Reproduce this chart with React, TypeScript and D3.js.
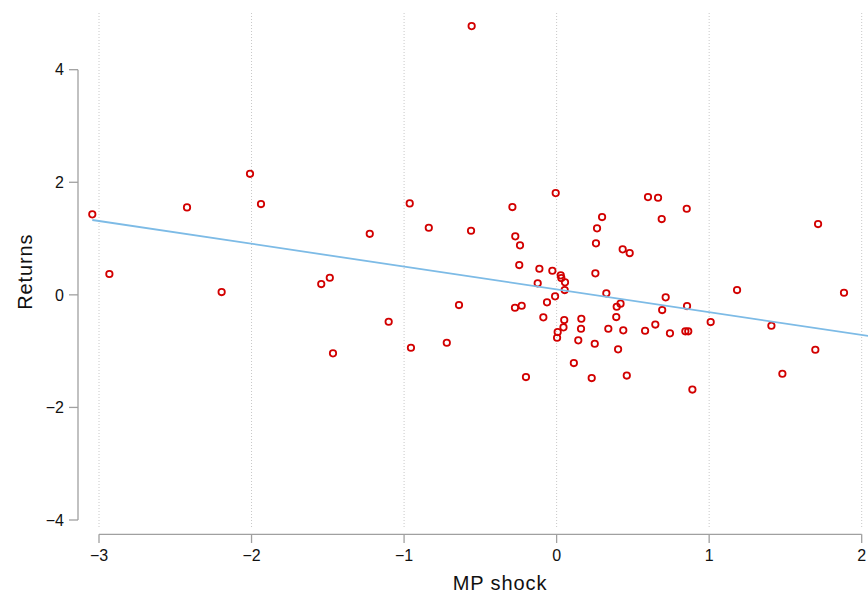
import React from "react";
import * as d3 from "d3";

// MP shock (x) and Returns (y)
const shock = [
  -3.044, -2.932, -2.423, -2.01, -1.938, -2.196, -0.557, -0.006, -0.963, -0.29,
  -1.225, -0.838, -0.561, -0.271, -0.24, -0.245, -0.113, -0.028, 0.027, 0.031,
  0.055, -0.124, 0.053, -0.01, -0.063, -1.487, -1.543, 0.265, 0.258, 0.254,
  0.298, 0.599, 0.665, 0.853, 0.689, 0.433, 0.479, 0.326, 0.715, 1.714,
  1.183, 1.884, -1.466, -1.101, -0.955, -0.72, -0.64, -0.273, -0.229, -0.087,
  0.05, 0.162, 0.007, 0.045, 0.16, 0.003, 0.142, 0.25, 0.113, -0.201,
  0.23, 0.394, 0.419, 0.391, 0.339, 0.437, 0.403, 0.46, 0.58, 0.647,
  0.692, 0.855, 0.743, 0.844, 0.863, 0.89, 1.01, 1.408, 1.696, 1.48,
];
const returns = [
  1.43, 0.37, 1.554, 2.151, 1.613, 0.05, 4.775, 1.808, 1.625, 1.56,
  1.085, 1.192, 1.139, 1.039, 0.879, 0.529, 0.464, 0.428, 0.346, 0.298,
  0.222, 0.204, 0.085, -0.027, -0.133, 0.304, 0.192, 1.181, 0.915, 0.382,
  1.382, 1.737, 1.725, 1.53, 1.347, 0.808, 0.743, 0.027, -0.044, 1.258,
  0.085, 0.037, -1.039, -0.478, -0.94, -0.851, -0.181, -0.229, -0.194, -0.4,
  -0.448, -0.425, -0.661, -0.577, -0.602, -0.762, -0.808, -0.869, -1.212, -1.46,
  -1.478, -0.211, -0.156, -0.394, -0.602, -0.631, -0.968, -1.434, -0.638, -0.528,
  -0.27, -0.199, -0.684, -0.648, -0.648, -1.682, -0.483, -0.549, -0.975, -1.402,
];
const xTicks = [-3, -2, -1, 0, 1, 2];
const yTicks = [-4, -2, 0, 2, 4];

// fitted line as shown in the chart
const fitIntercept = 0.097;
const fitSlope = -0.405;
const fitRange = [-3.044, 2.1];

const W = 868;
const H = 596;
const font = "'Liberation Sans', Arial, Helvetica, sans-serif";

export default function App() {
  const x = d3.scaleLinear().domain([-3, 2]).range([99, 861.7]);
  const y = d3.scaleLinear().domain([-4, 4]).range([520, 69.7]);
  const fmt = d3.format("d");

  const fitLine = d3
    .line<number>()
    .x((d) => x(d))
    .y((d) => y(fitIntercept + fitSlope * d));

  return (
    <svg
      width={W}
      height={H}
      style={{ position: "absolute", left: 0, top: 0, background: "#fff" }}
      fontFamily={font}
    >
      {/* dotted vertical grid */}
      {xTicks.map((t) => (
        <line
          key={"g" + t}
          x1={x(t)}
          x2={x(t)}
          y1={13}
          y2={529}
          stroke="#c8c8c8"
          strokeWidth={1}
          strokeDasharray="1 2"
        />
      ))}

      {/* y axis */}
      <line x1={78} x2={78} y1={y(4)} y2={y(-4)} stroke="#a0a0a0" strokeWidth={1.3} />
      {yTicks.map((t) => (
        <g key={"y" + t}>
          <line x1={69} x2={78} y1={y(t)} y2={y(t)} stroke="#a0a0a0" strokeWidth={1.3} />
          <text x={64} y={y(t)} dy="0.36em" textAnchor="end" fontSize={16} fill="#111">
            {fmt(t)}
          </text>
        </g>
      ))}

      {/* x axis */}
      <line x1={x(-3)} x2={x(2)} y1={534.3} y2={534.3} stroke="#a0a0a0" strokeWidth={1.3} />
      {xTicks.map((t) => (
        <g key={"x" + t}>
          <line x1={x(t)} x2={x(t)} y1={534.3} y2={543} stroke="#a0a0a0" strokeWidth={1.3} />
          <text x={x(t)} y={560.5} textAnchor="middle" fontSize={16} fill="#111">
            {fmt(t)}
          </text>
        </g>
      ))}

      <text x={500} y={589.5} textAnchor="middle" fontSize={20} letterSpacing={0.9} fill="#111">
        MP shock
      </text>
      <text
        transform="translate(32.3,271.7) rotate(-90)"
        textAnchor="middle"
        fontSize={20}
        letterSpacing={0.9}
        fill="#111"
      >
        Returns
      </text>

      {/* points */}
      {shock.map((v, i) => (
        <circle
          key={"p" + i}
          cx={x(v)}
          cy={y(returns[i])}
          r={3.2}
          fill="none"
          stroke="#d20000"
          strokeWidth={1.8}
        />
      ))}

      {/* fitted line */}
      <path d={fitLine(fitRange) || ""} fill="none" stroke="#7dbbe6" strokeWidth={1.8} />
    </svg>
  );
}
